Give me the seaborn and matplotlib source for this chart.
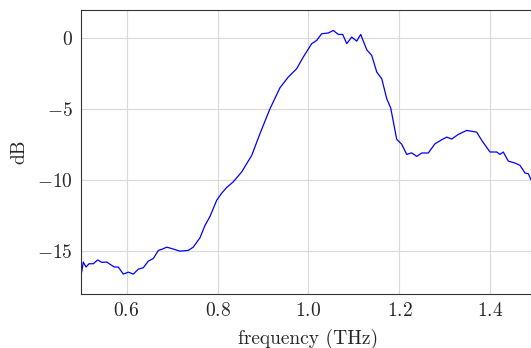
import matplotlib
matplotlib.use("Agg")
import matplotlib.pyplot as plt
import seaborn as sns
import pandas as pd

freq_thz = [0.5015, 0.505, 0.511, 0.5176, 0.527, 0.5367, 0.5455, 0.5565, 0.5637, 0.5732,
            0.582, 0.593, 0.604, 0.615, 0.626, 0.637, 0.648, 0.659, 0.670, 0.6787,
            0.6884, 0.6993, 0.7176, 0.7358, 0.7468, 0.7615, 0.7725, 0.7835, 0.7982, 0.8092,
            0.8202, 0.8347, 0.8532, 0.8752, 0.8934, 0.9154, 0.9374, 0.9556, 0.9741, 0.9886,
            1.007, 1.018, 1.029, 1.0435, 1.0545, 1.0655, 1.0752, 1.084, 1.095, 1.106,
            1.1147, 1.128, 1.139, 1.150, 1.161, 1.172, 1.1807, 1.1938, 1.2048, 1.2158,
            1.2268, 1.2378, 1.2488, 1.2633, 1.278, 1.2927, 1.3037, 1.3147, 1.3292, 1.3477,
            1.3697, 1.3807, 1.3989, 1.4136, 1.4209, 1.4281, 1.4391, 1.4538, 1.4648, 1.4758,
            1.4831, 1.489, 1.497]
gain_db = [-16.46, -15.75, -16.1, -15.87, -15.87, -15.6, -15.77, -15.75, -15.9, -16.1,
           -16.1, -16.6, -16.46, -16.6, -16.25, -16.15, -15.68, -15.5, -14.93, -14.84,
           -14.7, -14.8, -14.98, -14.93, -14.7, -14.04, -13.17, -12.54, -11.4, -10.9,
           -10.5, -10.1, -9.4, -8.24, -6.7, -4.95, -3.47, -2.72, -2.13, -1.31,
           -0.37, -0.14, 0.33, 0.38, 0.56, 0.28, 0.28, -0.37, 0.09, -0.19,
           0.28, -0.8, -1.2, -2.37, -2.84, -4.25, -4.9, -7.1, -7.45, -8.17,
           -8.06, -8.31, -8.07, -8.07, -7.42, -7.14, -6.95, -7.09, -6.76, -6.48,
           -6.6, -7.18, -8.0, -8.0, -8.17, -8.0, -8.64, -8.78, -8.94, -9.48,
           -9.53, -9.95, -10.15]

x_ticks = [0.6, 0.8, 1.0, 1.2, 1.4]
y_ticks = [0, -5, -10, -15]

sns.set_style("whitegrid")
plt.rcParams["font.family"] = ["cmr10"]
plt.rcParams["mathtext.fontset"] = "cm"
plt.rcParams["axes.formatter.use_mathtext"] = True

df = pd.DataFrame({"frequency (THz)": freq_thz, "dB": gain_db})

fig = plt.figure(figsize=(5.31, 3.48), dpi=100)
ax = fig.add_axes([81 / 531, 54 / 348, 455 / 531, 284 / 348])
sns.lineplot(data=df, x="frequency (THz)", y="dB", ax=ax, color="#0000ff", linewidth=0.9)

ax.set_xlim(0.5, 1.5)
ax.set_ylim(-18, 2)
ax.set_xticks(x_ticks)
ax.set_yticks(y_ticks)
ax.grid(True, color="#d9d9d9", linewidth=0.8)
for side in ["left", "bottom", "top", "right"]:
    ax.spines[side].set_visible(True)
    ax.spines[side].set_color("#333333")
    ax.spines[side].set_linewidth(0.8)
ax.tick_params(axis="both", labelsize=14, length=0, pad=6)
ax.set_xlabel("frequency (THz)", fontsize=14, labelpad=6)
ax.set_ylabel("dB", fontsize=14, labelpad=6)

fig.savefig("out.png", dpi=100)
